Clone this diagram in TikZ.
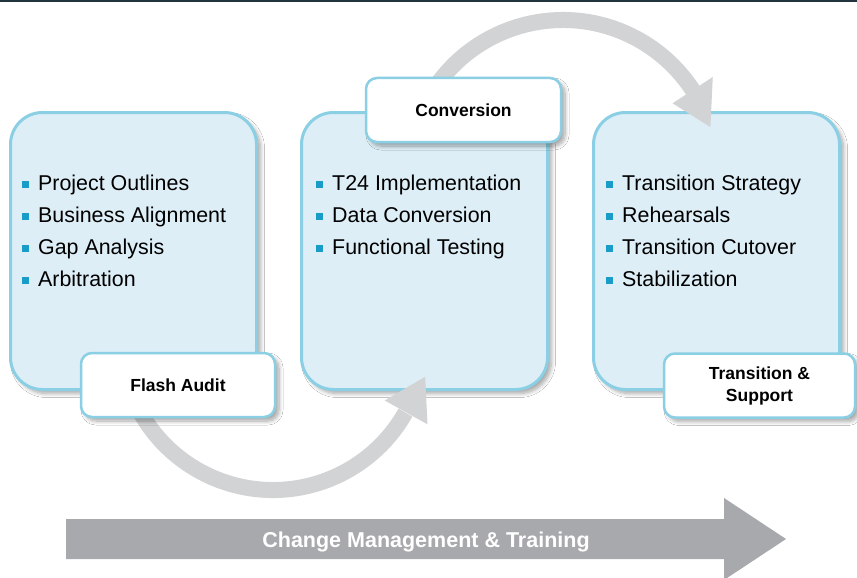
\documentclass[tikz,border=0pt]{standalone}
\usepackage{fontspec}
\setmainfont{Liberation Sans}
\usetikzlibrary{calc,shadows.blur}
\definecolor{boxfill}{HTML}{DDEEF6}
\definecolor{boxline}{HTML}{8ACFE4}
\definecolor{bulletc}{HTML}{1A9CC9}
\definecolor{arrowc}{HTML}{D1D3D4}
\definecolor{bigarrow}{HTML}{A7A9AC}
\definecolor{topline}{HTML}{22343D}
\newcommand{\bitem}{\makebox[16pt][l]{\textcolor{bulletc}{\rule[2pt]{7pt}{7pt}}}}
\begin{document}
\begin{tikzpicture}[x=1pt,y=-1pt,
  softshadow/.style={blur shadow={shadow xshift=4pt, shadow yshift=-4pt, shadow blur steps=8, shadow blur radius=4pt, shadow opacity=35}},
  phase/.style={draw=boxline, line width=3pt, fill=boxfill, rounded corners=32pt,
    minimum width=246pt, minimum height=277pt, inner sep=0pt, softshadow},
  tag/.style={draw=boxline, line width=2.5pt, fill=white, rounded corners=11pt,
    minimum height=64pt, inner sep=0pt, align=center,
    font=\fontsize{17.5}{22}\selectfont\bfseries, softshadow},
  items/.style={anchor=base west, inner sep=0pt, font=\fontsize{21.4}{32}\selectfont},
  flow/.style={draw=arrowc, line width=16pt},
  flowhead/.style={fill=arrowc},
  banner/.style={fill=bigarrow},
  bannertext/.style={anchor=base, inner sep=0pt, text=white, font=\fontsize{21.5}{26}\selectfont\bfseries}]
\clip (0,0) rectangle (857,578);
\fill[white] (0,0) rectangle (857,578);
\fill[topline] (0,0) rectangle (857,1.6);

% phase boxes
\node[phase] (p1) at (133.5,251) {};
\node[phase] (p2) at (424.5,251) {};
\node[phase] (p3) at (716.5,251) {};

% bullet lists
\node[items] (l1) at (22,190) {\begin{tabular}[t]{@{}l@{}}\bitem Project Outlines\\ \bitem Business Alignment\\ \bitem Gap Analysis\\ \bitem Arbitration\end{tabular}};
\node[items] (l2) at (316,190) {\begin{tabular}[t]{@{}l@{}}\bitem T24 Implementation\\ \bitem Data Conversion\\ \bitem Functional Testing\end{tabular}};
\node[items] (l3) at (606,190) {\begin{tabular}[t]{@{}l@{}}\bitem Transition Strategy\\ \bitem Rehearsals\\ \bitem Transition Cutover\\ \bitem Stabilization\end{tabular}};

% curved arrows
\coordinate (c1) at (563,175);
\draw[flow] ($(c1)+(-150:155)$) arc[start angle=-150, end angle=-33, radius=155];
\fill[flowhead] ($(c1)+(-33.2:131)$) -- ($(c1)+(-33.2:179)$) -- ($(c1)+(-18:155)$) -- cycle;

\coordinate (c2) at (273,338);
\draw[flow] ($(c2)+(160:152)$) arc[start angle=160, end angle=29.4, radius=152];
\fill[flowhead] ($(c2)+(29.2:128)$) -- ($(c2)+(29.2:177)$) -- ($(c2)+(14.3:157)$) -- cycle;

% tags
\node[tag, minimum width=195pt] (t2) at (463.5,110) {Conversion};
\node[tag, minimum width=194pt] (t1) at (178,385) {Flash Audit};
\node[tag, minimum width=191pt] (t3) at (759.5,385.5) {Transition \&\\ Support};

% bottom banner arrow
\fill[banner] (66,519) -- (724,519) -- (724,498) -- (786,539) -- (724,580) -- (724,559) -- (66,559) -- cycle;
\node[bannertext] (cm) at (426,547) {Change Management \& Training};
\end{tikzpicture}
\end{document}
